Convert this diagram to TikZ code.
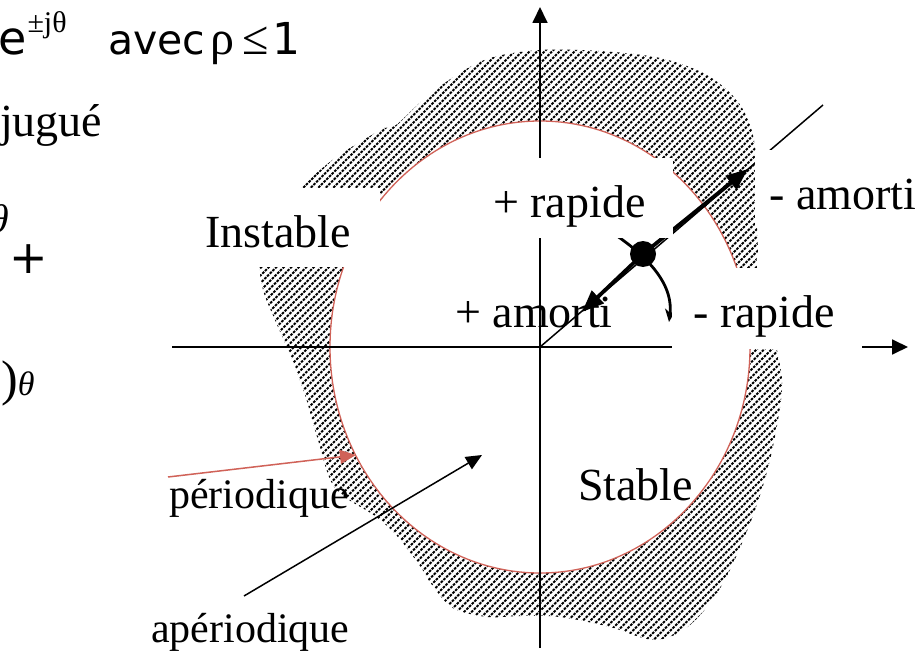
\documentclass[tikz,border=0pt]{standalone}
\usepackage{fontspec}
\setmainfont{Liberation Serif}
\newfontfamily\comicfont{DejaVu Sans}
\usetikzlibrary{arrows.meta}
\definecolor{circred}{RGB}{208,98,88}
\begin{document}
\begin{tikzpicture}[x=1pt,y=-1pt,
  lbl/.style={anchor=base west,inner sep=0pt,font=\fontsize{46}{50}\selectfont},
  lblsmall/.style={anchor=base west,inner sep=0pt,font=\fontsize{42}{46}\selectfont},
  axisline/.style={line width=1.8pt,-{Triangle[length=16pt,width=15pt]}},
  boldarrow/.style={line width=3.8pt,-{Triangle[length=22pt,width=17pt]}},
  thinarrow/.style={line width=1.5pt,-{Triangle[length=16pt,width=14pt]}},
  hatchline/.style={line width=1.9pt,dash pattern=on 2.6pt off 1.2pt},
  maskbox/.style={fill=white},
]
\useasboundingbox (0,0) rectangle (924,666);
\fill[white] (0,0) rectangle (924,666);

% hatched region
\begin{scope}
\clip plot[smooth cycle,tension=0.55] coordinates {
 (300,188) (335,158) (370,136) (384,128) (396,125) (423,100) (455,76) (490,58)
 (540,50) (600,51) (660,58) (705,74) (735,98) (750,125) (756,155) (758,200)
 (757,230) (758,250) (757,268) (770,310) (777,350) (782,390) (770,460)
 (751,521) (722,585) (690,625) (655,640) (610,627) (560,617) (520,616)
 (487,617) (453,608) (432,585) (420,566) (397,536) (375,516) (335,488)
 (318,440) (305,395) (290,355) (275,320) (263,290) (260,260) (270,220)};
\foreach \i in {-700,-692.5,...,950}
  \draw[hatchline] (\i,666) -- ++(666,-666);
\end{scope}

% unit circle
\draw[circred,line width=1.3pt,fill=white] (540,347) ellipse [x radius=210,y radius=226];

% axes
\coordinate (O) at (540,347);
\coordinate (ytop) at (540,7);
\coordinate (ybot) at (540,648);
\coordinate (xl) at (172,347);
\coordinate (xr) at (908,347);
\draw[axisline] (ybot) -- (ytop);
\draw[axisline] (xl) -- (xr);

% ray and pole
\coordinate (rayend) at (823,105);
\draw[line width=1.5pt] (O) -- (rayend);
\coordinate (outtip) at (748,169);
\coordinate (intip) at (582,312);
\coordinate (arcstart) at (605,228);
\coordinate (arctip) at (669,322);
\node[circle,fill=black,inner sep=0pt,minimum size=26pt] (pole) at (643,254) {};
\draw[boldarrow] (pole.center) -- (outtip);
\draw[boldarrow] (pole.center) -- (intip);
\draw[line width=2.8pt,-{Stealth[length=13pt,width=11pt]}]
  (arcstart) .. controls (640,250) and (674,280) .. (arctip);

% white text boxes
\fill[maskbox] (195,188) rectangle (380,267);
\fill[maskbox] (475,158) rectangle (673,238);
\fill[maskbox] (755,150) rectangle (930,228);
\fill[maskbox] (672,268) rectangle (862,349);

% labels
\node[lbl] (instable) at (205,247) {Instable};
\node[lbl] (rapplus) at (493,217) {+ rapide};
\node[lbl] (amomoins) at (769,209) {- amorti};
\node[lbl] (rapmoins) at (693,327) {- rapide};
\node[lbl] (amoplus) at (455,327) {+ amorti};
\node[lbl] (stable) at (578,500) {Stable};
\node[lblsmall] (perio) at (169,508) {périodique};
\node[lblsmall] (aperio) at (151,642) {apériodique};

% pointers
\coordinate (periostart) at (168,477);
\coordinate (periotip) at (356,455);
\draw[circred,thinarrow] (periostart) -- (periotip);
\coordinate (aperiostart) at (244,596);
\coordinate (aperiotip) at (482,455);
\draw[thinarrow] (aperiostart) -- (aperiotip);

% left text fragments
\node[anchor=base west,inner sep=0pt,font=\comicfont\fontsize{46}{50}\selectfont] (ejt) at (-2,55)
  {e\hspace{1pt}\raisebox{22pt}{\fontsize{30}{32}\selectfont\rmfamily ±jθ}};
\node[anchor=base west,inner sep=0pt,font=\fontsize{48}{52}\selectfont] (avec) at (108,55)
  {{\comicfont\fontsize{41}{45}\selectfont avec}\hspace{5pt}ρ\hspace{8pt}≤\hspace{4pt}{\comicfont\fontsize{44}{48}\selectfont 1}};
\node[lbl] (jugue) at (0,137) {jugué};
\node[anchor=base east,inner sep=0pt,font=\fontsize{40}{44}\selectfont\itshape] (thfrag) at (9,233) {θ};
\node[inner sep=0pt,font=\comicfont\fontsize{46}{50}\selectfont] (plus) at (28.5,259) {+};
\node[anchor=base west,inner sep=0pt] (parth) at (1,395)
  {{\fontsize{50}{50}\selectfont )}{\fontsize{34}{38}\selectfont\itshape θ}};
\end{tikzpicture}
\end{document}
